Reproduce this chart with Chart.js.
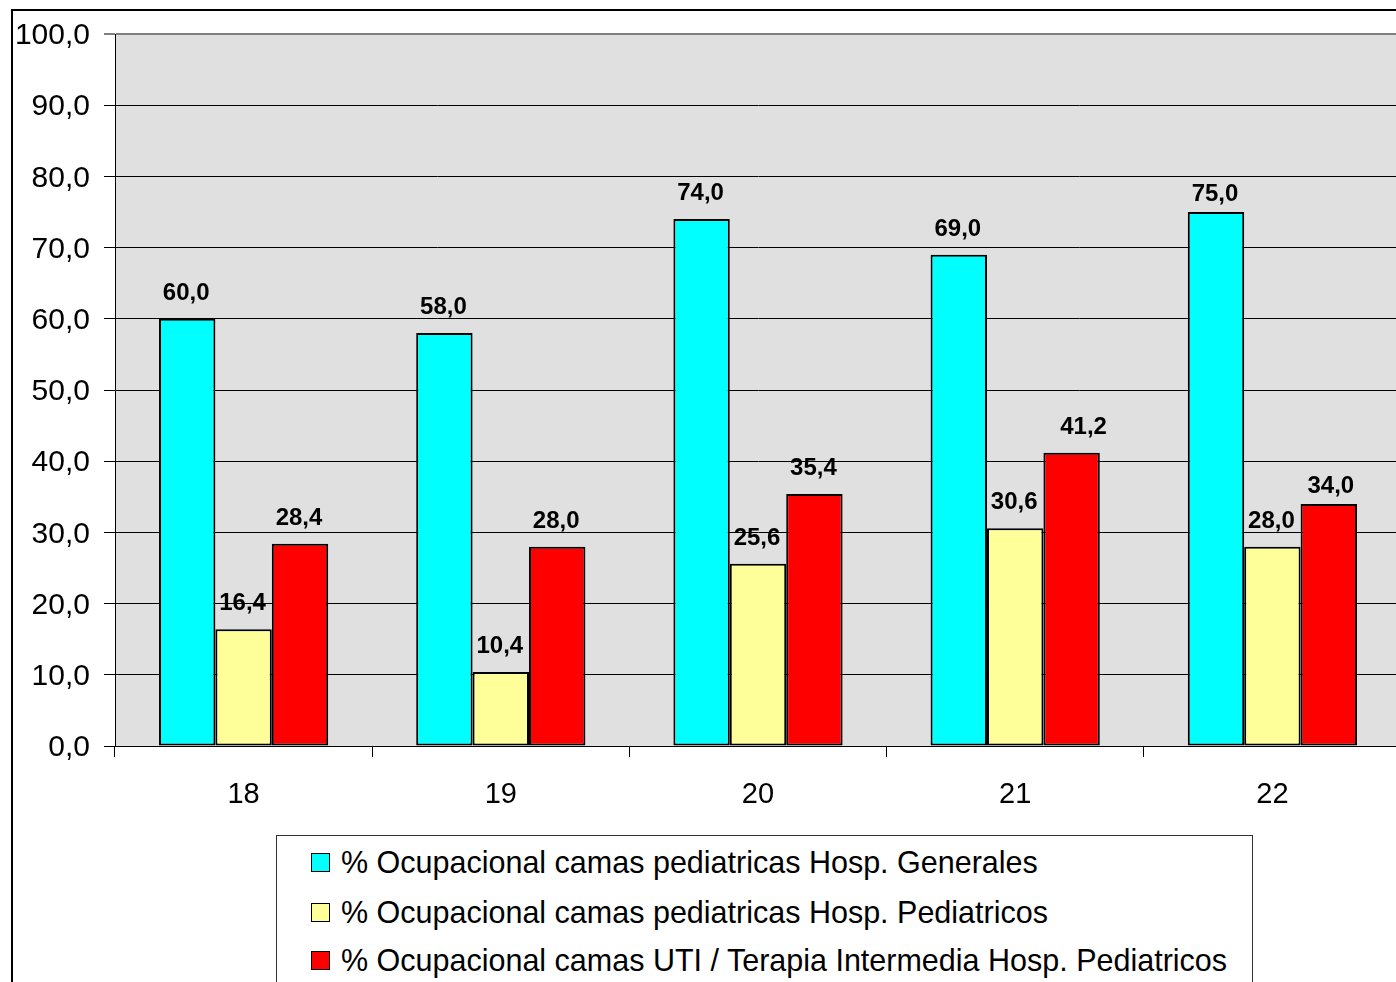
<!DOCTYPE html>
<html>
<head>
<meta charset="utf-8">
<script src="https://cdn.jsdelivr.net/npm/chart.js@4/dist/chart.umd.min.js"></script>
<style>
  html, body { margin:0; padding:0; background:#fff; width:1396px; height:982px; overflow:hidden; }
  #frame { position:absolute; left:11px; top:9px; width:1500px; height:1200px; border-left:2px solid #000; border-top:2px solid #000; box-sizing:border-box; }
  #c { position:absolute; left:0; top:0; }
  #legend { position:absolute; left:276px; top:835px; width:977px; height:200px; border:1.5px solid #333; box-sizing:border-box; background:#fff;
            font-family:"Liberation Sans", Arial, sans-serif; font-size:30.5px; color:#000; }
  .row { position:absolute; left:34px; height:30px; line-height:30px; display:flex; align-items:center; white-space:nowrap; }
  .sw { width:17px; height:17px; border:1.5px solid #000; margin-right:11px; flex:none; }
</style>
</head>
<body>
<div id="frame"></div>
<canvas id="c" width="1403" height="982"></canvas>
<div id="legend"></div>
<script>
const categories = ["18", "19", "20", "21", "22"];
const seriesNames = [
  "% Ocupacional camas pediatricas Hosp. Generales",
  "% Ocupacional camas pediatricas Hosp. Pediatricos",
  "% Ocupacional camas UTI / Terapia Intermedia Hosp. Pediatricos"
];
const hospGenerales = [60.0, 58.0, 74.0, 69.0, 75.0];
const hospPediatricos = [16.4, 10.4, 25.6, 30.6, 28.0];
const utiPediatricos = [28.4, 28.0, 35.4, 41.2, 34.0];
const seriesColors = ["#00FFFF", "#FFFF99", "#FF0000"];

const FONT = '"Liberation Sans", Arial, sans-serif';
const fmt = v => Number(v).toFixed(1).replace('.', ',');

// small manual nudges of individual value labels, as in the original
const labelNudge = { "0-4": [0, 8], "2-3": [13, 0], "2-4": [3, 8] };

const bgPlugin = {
  id: 'plotBg',
  beforeDraw(chart) {
    const { ctx, chartArea: a } = chart;
    ctx.save();
    ctx.fillStyle = '#E0E0E0';
    ctx.fillRect(a.left, a.top, a.right - a.left, a.bottom - a.top);
    ctx.restore();
  }
};
const labelPlugin = {
  id: 'valLabels',
  afterDatasetsDraw(chart) {
    const ctx = chart.ctx;
    ctx.save();
    ctx.font = 'bold 24px ' + FONT;
    ctx.fillStyle = '#000';
    ctx.textAlign = 'center';
    ctx.textBaseline = 'alphabetic';
    chart.data.datasets.forEach((ds, i) => {
      chart.getDatasetMeta(i).data.forEach((el, j) => {
        const n = labelNudge[i + '-' + j] || [0, 0];
        ctx.fillText(fmt(ds.data[j]), el.x - 1 + n[0], el.y - 19 + n[1]);
      });
    });
    ctx.restore();
  }
};

const datasets = [hospGenerales, hospPediatricos, utiPediatricos].map((d, i) => ({
  label: seriesNames[i],
  data: d,
  backgroundColor: seriesColors[i],
  borderColor: '#000',
  borderWidth: 2,
  borderSkipped: false,
  categoryPercentage: 0.658,
  barPercentage: 1.0
}));

new Chart(document.getElementById('c'), {
  type: 'bar',
  data: { labels: categories, datasets },
  options: {
    responsive: false,
    animation: false,
    devicePixelRatio: 1,
    layout: { padding: { left: 0, top: 34, right: 2, bottom: 0 } },
    plugins: { legend: { display: false }, tooltip: { enabled: false } },
    scales: {
      x: {
        grid: { offset: true, drawOnChartArea: false, drawTicks: true, tickLength: 11, color: '#000', lineWidth: 1 },
        border: { display: true, color: '#000', width: 1 },
        ticks: { color: '#000', font: { family: FONT, size: 29 }, padding: 21, maxRotation: 0 },
        afterFit(s) { s.height = 236; }
      },
      y: {
        min: 0, max: 100,
        grid: {
          color: c => (c.tick && c.tick.value === 100) ? '#808080' : '#000',
          lineWidth: c => (c.tick && c.tick.value === 100) ? 2 : 1,
          tickLength: 11, drawTicks: true
        },
        border: { display: true, color: '#000', width: 1 },
        ticks: { stepSize: 10, color: '#000', font: { family: FONT, size: 30 }, padding: 14, labelOffset: 2, callback: v => fmt(v) },
        afterFit(s) { s.width = 115; }
      }
    }
  },
  plugins: [bgPlugin, labelPlugin]
});

const legend = document.getElementById('legend');
const rowCenters = [26, 76, 124];
seriesNames.forEach((name, i) => {
  const row = document.createElement('div');
  row.className = 'row';
  row.style.top = (rowCenters[i] - 15) + 'px';
  const sw = document.createElement('span');
  sw.className = 'sw';
  sw.style.background = seriesColors[i];
  const t = document.createElement('span');
  t.textContent = name;
  row.appendChild(sw); row.appendChild(t);
  legend.appendChild(row);
});
</script>
</body>
</html>
